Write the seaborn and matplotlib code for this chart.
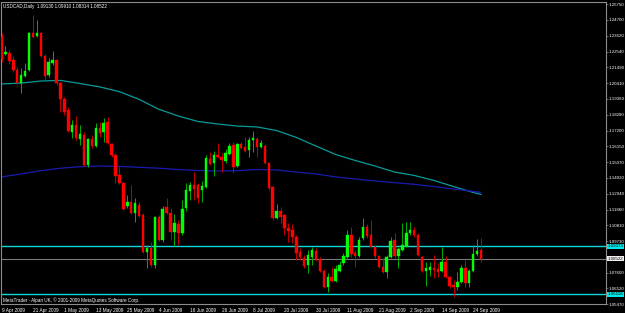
import numpy as np
import pandas as pd
import matplotlib
matplotlib.use("Agg")
import matplotlib.pyplot as plt
import matplotlib.transforms as mtransforms
import seaborn as sns

# ---------------- data ----------------
symbol = "USDCAD,Daily"
first_date = "2009-04-09"

open_ = [1.2354, 1.2242, 1.2246, 1.2198, 1.2131, 1.2043, 1.2090, 1.2131, 1.2381, 1.2361,
         1.2381, 1.2225, 1.2097, 1.2178, 1.2198, 1.2043, 1.1934, 1.1860, 1.1711, 1.1758,
         1.1664, 1.1691, 1.1488, 1.1664, 1.1616, 1.1738, 1.1711, 1.1779, 1.1630, 1.1556,
         1.1420, 1.1366, 1.1211, 1.1238, 1.1163, 1.1217, 1.1150, 1.0899, 1.0926, 1.0811,
         1.1136, 1.0981, 1.1204, 1.1163, 1.1035, 1.1089, 1.1028, 1.1197, 1.1312, 1.1353,
         1.1353, 1.1319, 1.1339, 1.1529, 1.1501, 1.1556, 1.1542, 1.1515, 1.1562, 1.1623,
         1.1481, 1.1630, 1.1610, 1.1589, 1.1657, 1.1664, 1.1610, 1.1616, 1.1501, 1.1339,
         1.1129, 1.1177, 1.1150, 1.1062, 1.1048, 1.1001, 1.0899, 1.0859, 1.0811, 1.0865,
         1.0906, 1.0852, 1.0771, 1.0662, 1.0730, 1.0703, 1.0771, 1.0825, 1.0865, 1.1014,
         1.0892, 1.0872, 1.0994, 1.1068, 1.1014, 1.0933, 1.0872, 1.0798, 1.0764, 1.0865,
         1.0981, 1.0872, 1.0913, 1.0940, 1.1028, 1.1048, 1.1014, 1.0865, 1.0771, 1.0778,
         1.0791, 1.0784, 1.0771, 1.0832, 1.0730, 1.0676, 1.0662, 1.0696, 1.0791, 1.0689,
         1.0771, 1.0886, 1.0913]

high = [1.2381, 1.2293, 1.2266, 1.2225, 1.2151, 1.2144, 1.2178, 1.2388, 1.2503, 1.2469,
        1.2388, 1.2239, 1.2212, 1.2259, 1.2205, 1.2049, 1.1948, 1.1880, 1.1792, 1.1819,
        1.1758, 1.1711, 1.1671, 1.1691, 1.1772, 1.1779, 1.1806, 1.1813, 1.1637, 1.1569,
        1.1481, 1.1373, 1.1285, 1.1353, 1.1265, 1.1238, 1.1163, 1.0947, 1.0967, 1.1143,
        1.1150, 1.1211, 1.1265, 1.1197, 1.1156, 1.1116, 1.1251, 1.1366, 1.1373, 1.1440,
        1.1366, 1.1380, 1.1556, 1.1576, 1.1583, 1.1637, 1.1569, 1.1596, 1.1637, 1.1644,
        1.1637, 1.1644, 1.1677, 1.1677, 1.1718, 1.1677, 1.1657, 1.1630, 1.1508, 1.1346,
        1.1224, 1.1204, 1.1156, 1.1095, 1.1089, 1.1014, 1.0926, 1.0879, 1.0913, 1.0933,
        1.0926, 1.0865, 1.0784, 1.0757, 1.0798, 1.0811, 1.0838, 1.0892, 1.1048, 1.1068,
        1.0913, 1.1001, 1.1129, 1.1089, 1.1116, 1.0947, 1.0879, 1.0859, 1.0879, 1.1001,
        1.1028, 1.0933, 1.1095, 1.1102, 1.1102, 1.1068, 1.1028, 1.0872, 1.0832, 1.0832,
        1.0879, 1.0825, 1.0933, 1.0872, 1.0737, 1.0710, 1.0764, 1.0811, 1.0845, 1.0784,
        1.0947, 1.0987, 1.0991]

low = [1.2185, 1.2232, 1.2171, 1.2117, 1.2029, 1.1975, 1.2083, 1.2124, 1.2347, 1.2354,
       1.2219, 1.2063, 1.2083, 1.2164, 1.2029, 1.1846, 1.1826, 1.1711, 1.1671, 1.1657,
       1.1623, 1.1481, 1.1474, 1.1603, 1.1610, 1.1677, 1.1644, 1.1630, 1.1542, 1.1366,
       1.1359, 1.1184, 1.1197, 1.1156, 1.1102, 1.1136, 1.0892, 1.0791, 1.0798, 1.0791,
       1.0974, 1.0967, 1.1156, 1.0981, 1.0940, 1.0947, 1.1014, 1.1176, 1.1251, 1.1251,
       1.1231, 1.1238, 1.1333, 1.1488, 1.1413, 1.1535, 1.1440, 1.1501, 1.1556, 1.1434,
       1.1474, 1.1596, 1.1576, 1.1542, 1.1576, 1.1542, 1.1603, 1.1495, 1.1319, 1.1116,
       1.1122, 1.1095, 1.1014, 1.0967, 1.0960, 1.0845, 1.0845, 1.0791, 1.0757, 1.0811,
       1.0838, 1.0764, 1.0656, 1.0629, 1.0696, 1.0696, 1.0764, 1.0811, 1.0859, 1.0865,
       1.0798, 1.0865, 1.0981, 1.0994, 1.0926, 1.0859, 1.0791, 1.0757, 1.0723, 1.0859,
       1.0859, 1.0791, 1.0906, 1.0933, 1.1014, 1.1001, 1.0872, 1.0764, 1.0669, 1.0737,
       1.0723, 1.0730, 1.0764, 1.0723, 1.0656, 1.0595, 1.0642, 1.0689, 1.0662, 1.0662,
       1.0764, 1.0872, 1.0831]

close = [1.2205, 1.2252, 1.2191, 1.2131, 1.2043, 1.2097, 1.2124, 1.2381, 1.2354, 1.2381,
         1.2225, 1.2090, 1.2185, 1.2198, 1.2043, 1.1934, 1.1846, 1.1718, 1.1758, 1.1671,
         1.1698, 1.1488, 1.1664, 1.1616, 1.1738, 1.1704, 1.1772, 1.1637, 1.1556, 1.1413,
         1.1366, 1.1190, 1.1238, 1.1163, 1.1231, 1.1143, 1.0899, 1.0926, 1.0811, 1.1136,
         1.0981, 1.1190, 1.1163, 1.1035, 1.1095, 1.1028, 1.1190, 1.1319, 1.1353, 1.1326,
         1.1265, 1.1346, 1.1535, 1.1495, 1.1556, 1.1542, 1.1522, 1.1569, 1.1616, 1.1474,
         1.1630, 1.1603, 1.1583, 1.1657, 1.1671, 1.1610, 1.1637, 1.1501, 1.1333, 1.1129,
         1.1177, 1.1136, 1.1062, 1.1041, 1.1001, 1.0892, 1.0865, 1.0805, 1.0879, 1.0913,
         1.0852, 1.0771, 1.0662, 1.0730, 1.0703, 1.0784, 1.0811, 1.0872, 1.1014, 1.0886,
         1.0872, 1.0981, 1.1068, 1.1008, 1.0933, 1.0872, 1.0798, 1.0764, 1.0865, 1.0974,
         1.0872, 1.0920, 1.0947, 1.1028, 1.1048, 1.1014, 1.0879, 1.0771, 1.0791, 1.0798,
         1.0778, 1.0764, 1.0832, 1.0730, 1.0669, 1.0662, 1.0696, 1.0791, 1.0689, 1.0771,
         1.0886, 1.0906, 1.0852]

# last bar as printed in the chart header
last_ohlc = [1.09130, 1.09910, 1.08314, 1.08522]

# moving averages, sampled at bar numbers
ma_bars = [0, 5, 10, 15, 20, 25, 30, 35, 40, 45, 50, 55, 60, 65, 70, 75, 80, 85, 90,
           95, 100, 105, 110, 115, 120, 122]
ma_teal = [1.2036, 1.2042, 1.2056, 1.2060, 1.2039, 1.2016, 1.1984, 1.1932, 1.1865, 1.1819,
           1.1782, 1.1765, 1.1751, 1.1745, 1.1721, 1.1674, 1.1616, 1.1559, 1.1518, 1.1481,
           1.1440, 1.1417, 1.1383, 1.1342, 1.1302, 1.1288]
ma_blue = [1.1407, 1.1427, 1.1449, 1.1466, 1.1476, 1.1481, 1.1478, 1.1472, 1.1466, 1.1457,
           1.1450, 1.1447, 1.1449, 1.1457, 1.1454, 1.1440, 1.1427, 1.1407, 1.1393, 1.1380,
           1.1368, 1.1357, 1.1342, 1.1325, 1.1309, 1.1302]

hline_upper = 1.09373
hline_lower = 1.06118
bid = 1.08522

price_ticks = [1.25750, 1.24700, 1.23620, 1.22540, 1.21490, 1.20410, 1.19360, 1.18280,
               1.17200, 1.16150, 1.15070, 1.14020, 1.12940, 1.11860, 1.10810, 1.09730,
               1.08650, 1.07600, 1.06520, 1.05470]
hidden_tick = 1.08650   # covered by the bid price box in the reference

footer = "MetaTrader - Alpari UK, \u00a9 2001-2009 MetaQuotes Software Corp."

# ---------------- styling ----------------
sns.set_theme(style="dark")
plt.rcParams["font.family"] = ["Liberation Sans", "DejaVu Sans"]

BULL, BEAR = "#00ff00", "#ff0000"
BULL_W, BEAR_W = "#00b000", "#c00000"
TEAL, NAVY = "#0a9a9a", "#1a1ab0"
HCYAN, GRID = "#10d8d8", "#8c8c8c"
FS_X, FS_Y, FS_T = 3.4, 3.2, 3.3

df = pd.DataFrame({"open": open_, "high": high, "low": low, "close": close})
df["date"] = pd.bdate_range(first_date, periods=len(df))
df["bar"] = np.arange(len(df))
up = df["close"] >= df["open"]

W, H = 625, 313
fig = plt.figure(figsize=(W / 100, H / 100), dpi=100, facecolor="black")
ax = fig.add_axes([1 / W, 9 / H, 605 / W, 302.5 / H])
ax.set_facecolor("black")
ax.grid(False)

# moving averages
sns.lineplot(x=ma_bars, y=ma_teal, color=TEAL, lw=0.9, ax=ax, zorder=2)
sns.lineplot(x=ma_bars, y=ma_blue, color=NAVY, lw=0.9, ax=ax, zorder=2)

# horizontal lines
ax.axhline(hline_upper, color=HCYAN, lw=1.0, zorder=1)
ax.axhline(bid, color="#7a7a7a", lw=0.8, zorder=1)
ax.axhline(hline_lower, color=HCYAN, lw=1.0, zorder=1)

# candles
ax.vlines(df["bar"], df["low"], df["high"],
          colors=np.where(up, BULL_W, BEAR_W), lw=0.7, zorder=3)
body_col = np.where(up, BULL, BEAR)
ax.bar(df["bar"], df["close"] - df["open"], bottom=df["open"], width=0.62,
       color=body_col, edgecolor=body_col, linewidth=0.3, zorder=4)

ax.set_xlim(-0.13, 153.8)
ax.set_ylim(1.05475, 1.2594)

# x axis: a label every 8 bars
tick_rows = df.iloc[::8]
ax.set_xticks(tick_rows["bar"])
ax.set_xticklabels([f"{d.day} {d.strftime('%b %Y')}" for d in tick_rows["date"]],
                   ha="left", fontsize=FS_X, color="white")
ax.tick_params(axis="x", length=2, width=0.5, color=GRID, pad=0.6, direction="out")

# y axis on the right
ax.yaxis.tick_right()
ax.set_yticks(price_ticks)
ax.set_yticklabels(["" if v == hidden_tick else f"{v:.5f}" for v in price_ticks],
                   fontsize=FS_Y, color="white")
ax.tick_params(axis="y", length=1.5, width=0.5, color=GRID, pad=0.4, direction="out")
ax.set_xlabel("")
ax.set_ylabel("")

for s in ax.spines.values():
    s.set_visible(True)
    s.set_color(GRID)
    s.set_linewidth(0.8)

# header and footer
o, h, l, c = last_ohlc
ax.text(0.0035, 0.993, f"{symbol}  {o:.5f} {h:.5f} {l:.5f} {c:.5f}",
        transform=ax.transAxes, ha="left", va="top", fontsize=FS_T, color="white")
ax.text(0.0035, 0.014, footer, transform=ax.transAxes, ha="left", va="center",
        fontsize=FS_T, color="white")

# price boxes on the right axis
trans = mtransforms.blended_transform_factory(ax.transAxes, ax.transData)
for val, fc in [(hline_upper, "#00e8e8"), (bid, "#f0f0f0"), (hline_lower, "#00e8e8")]:
    ax.text(1.0025, val, f"{val:.5f}", transform=trans, ha="left", va="center",
            fontsize=FS_Y, color="black", clip_on=False, zorder=10,
            bbox=dict(boxstyle="square,pad=0.12", fc=fc, ec="none"))

fig.savefig("out.png", dpi=100, facecolor="black")
